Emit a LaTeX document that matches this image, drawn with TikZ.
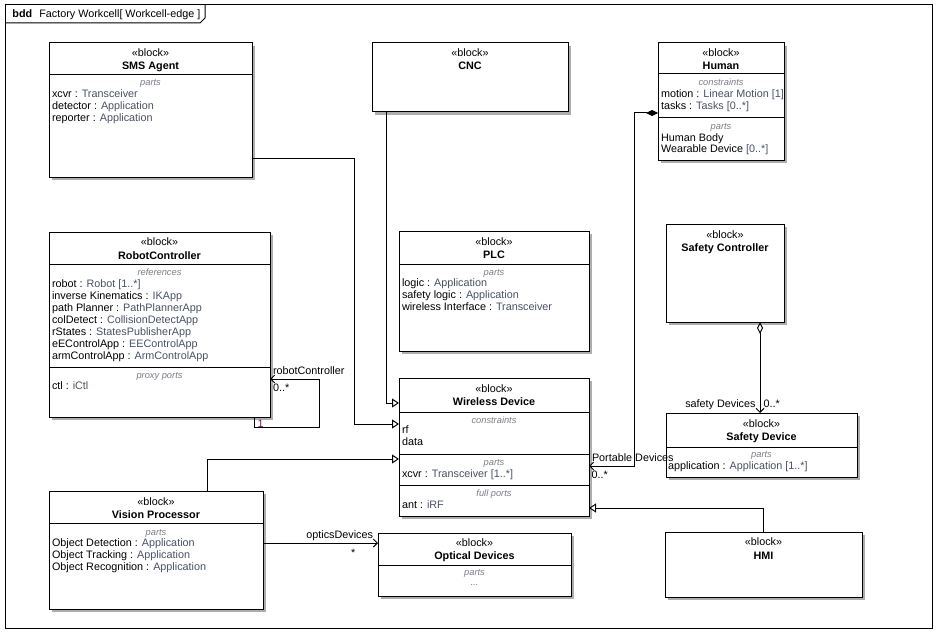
\documentclass[tikz,border=0pt]{standalone}
\usepackage{fontspec}
\setmainfont{Liberation Sans}
\usetikzlibrary{arrows.meta,calc,shadows}
\definecolor{typec}{RGB}{72,82,98}
\definecolor{lblc}{RGB}{125,125,135}
\definecolor{multc}{RGB}{110,30,90}
\newcommand{\tyc}[1]{\textcolor{typec}{#1}}
\begin{document}
\begin{tikzpicture}[x=1pt,y=-1pt,
  every node/.style={font=\fontsize{10.8}{12}\selectfont, inner sep=0pt, outer sep=0pt},
  blk/.style={draw, line width=1pt, fill=white, anchor=north west,
    drop shadow={shadow xshift=3pt, shadow yshift=-3pt, fill=black!32, opacity=1}},
  ster/.style={anchor=base},
  bname/.style={anchor=base, font=\fontsize{10.8}{12}\selectfont\bfseries},
  clbl/.style={anchor=base, text=lblc, font=\fontsize{9.3}{11}\selectfont\itshape},
  itm/.style={anchor=base west},
  sepline/.style={line width=1pt},
  conn/.style={line width=1pt},
  gen/.style={conn, -{Triangle[open, length=7pt, width=9pt, fill=white]}},
  nav/.style={conn, -{Straight Barb[length=4pt, width=8pt]}},
  comp/.style={conn, {Diamond[length=12pt, width=6pt, fill=black]}-{Straight Barb[length=4pt, width=8pt]}},
  aggr/.style={conn, {Diamond[open, length=12pt, width=6pt, fill=white]}-{Straight Barb[length=4pt, width=8pt]}},
  rolel/.style={anchor=base west},
]
\useasboundingbox (0,0) rectangle (938,634);
\fill[white] (0,0) rectangle (938,634);

% frame
\node[draw, line width=1pt, minimum width=927pt, minimum height=623pt, anchor=north west] (frame) at (5,5) {};
\draw[line width=1pt] (frame.north west) ++(0,18) -- ++(195,0) -- ++(5,-5) -- ++(0,-13);
\node[anchor=base west] (title) at (12.5,18) {\textbf{bdd}\hspace{4pt} Factory Workcell[ Workcell-edge ]};

% SMS Agent
\node[blk, minimum width=203pt, minimum height=134pt] (sms) at (49,43) {};
\node[ster] (smsst) at ($(sms.north)+(0,13.5)$) {«block»};
\node[bname] (smsnm) at ($(sms.north)+(0,27)$) {SMS Agent};
\draw[sepline] ($(sms.north west)+(0,32)$) -- ($(sms.north east)+(0,32)$);
\node[clbl] (smsc1) at ($(sms.north)+(0,43)$) {parts};
\node[itm] (smsi1) at ($(sms.north west)+(3,54.5)$) {xcvr : \tyc{Transceiver}};
\node[itm] (smsi2) at ($(sms.north west)+(3,66.5)$) {detector : \tyc{Application}};
\node[itm] (smsi3) at ($(sms.north west)+(3,78.5)$) {reporter : \tyc{Application}};

% CNC
\node[blk, minimum width=196pt, minimum height=69pt] (cnc) at (372,43) {};
\node[ster] (cncst) at ($(cnc.north)+(0,13.5)$) {«block»};
\node[bname] (cncnm) at ($(cnc.north)+(0,27)$) {CNC};

% Human
\node[blk, minimum width=126pt, minimum height=117pt] (human) at (658,43) {};
\node[ster] (hust) at ($(human.north)+(0,13.5)$) {«block»};
\node[bname] (hunm) at ($(human.north)+(0,27)$) {Human};
\draw[sepline] ($(human.north west)+(0,31)$) -- ($(human.north east)+(0,31)$);
\node[clbl] (huc1) at ($(human.north)+(0,42)$) {constraints};
\node[itm] (hui1) at ($(human.north west)+(3,54.5)$) {motion : \tyc{Linear Motion [1]}};
\node[itm] (hui2) at ($(human.north west)+(3,66.5)$) {tasks : \tyc{Tasks [0..*]}};
\draw[sepline] ($(human.north west)+(0,75)$) -- ($(human.north east)+(0,75)$);
\node[clbl] (huc2) at ($(human.north)+(0,86)$) {parts};
\node[itm] (hui3) at ($(human.north west)+(3,98)$) {Human Body};
\node[itm] (hui4) at ($(human.north west)+(3,110)$) {Wearable Device \tyc{[0..*]}};

% RobotController
\node[blk, minimum width=221pt, minimum height=185pt] (rc) at (49,232) {};
\node[ster] (rcst) at ($(rc.north)+(0,13.5)$) {«block»};
\node[bname] (rcnm) at ($(rc.north)+(0,27)$) {RobotController};
\draw[sepline] ($(rc.north west)+(0,32)$) -- ($(rc.north east)+(0,32)$);
\node[clbl] (rcc1) at ($(rc.north)+(0,43)$) {references};
\node[itm] (rci1) at ($(rc.north west)+(3,55.5)$) {robot : \tyc{Robot [1..*]}};
\node[itm] (rci2) at ($(rc.north west)+(3,67.5)$) {inverse Kinematics : \tyc{IKApp}};
\node[itm] (rci3) at ($(rc.north west)+(3,79.5)$) {path Planner : \tyc{PathPlannerApp}};
\node[itm] (rci4) at ($(rc.north west)+(3,91.5)$) {colDetect : \tyc{CollisionDetectApp}};
\node[itm] (rci5) at ($(rc.north west)+(3,103.5)$) {rStates : \tyc{StatesPublisherApp}};
\node[itm] (rci6) at ($(rc.north west)+(3,115.5)$) {eEControlApp : \tyc{EEControlApp}};
\node[itm] (rci7) at ($(rc.north west)+(3,127.5)$) {armControlApp : \tyc{ArmControlApp}};
\draw[sepline] ($(rc.north west)+(0,135.5)$) -- ($(rc.north east)+(0,135.5)$);
\node[clbl] (rcc2) at ($(rc.north)+(0,146)$) {proxy ports};
\node[itm] (rci8) at ($(rc.north west)+(3,157.5)$) {ctl : \tyc{iCtl}};

% PLC
\node[blk, minimum width=190pt, minimum height=120pt] (plc) at (399,231) {};
\node[ster] (plcst) at ($(plc.north)+(0,14)$) {«block»};
\node[bname] (plcnm) at ($(plc.north)+(0,27.5)$) {PLC};
\draw[sepline] ($(plc.north west)+(0,33)$) -- ($(plc.north east)+(0,33)$);
\node[clbl] (plcc1) at ($(plc.north)+(0,44)$) {parts};
\node[itm] (plci1) at ($(plc.north west)+(3,55.5)$) {logic : \tyc{Application}};
\node[itm] (plci2) at ($(plc.north west)+(3,67.5)$) {safety logic : \tyc{Application}};
\node[itm] (plci3) at ($(plc.north west)+(3,79.5)$) {wireless Interface : \tyc{Transceiver}};

% Wireless Device
\node[blk, minimum width=190pt, minimum height=138pt] (wd) at (399,378) {};
\node[ster] (wdst) at ($(wd.north)+(0,14)$) {«block»};
\node[bname] (wdnm) at ($(wd.north)+(0,27)$) {Wireless Device};
\draw[sepline] ($(wd.north west)+(0,34)$) -- ($(wd.north east)+(0,34)$);
\node[clbl] (wdc1) at ($(wd.north)+(0,45)$) {constraints};
\node[itm] (wdi1) at ($(wd.north west)+(3,55)$) {rf};
\node[itm] (wdi2) at ($(wd.north west)+(3,67)$) {data};
\draw[sepline] ($(wd.north west)+(0,76)$) -- ($(wd.north east)+(0,76)$);
\node[clbl] (wdc2) at ($(wd.north)+(0,87)$) {parts};
\node[itm] (wdi3) at ($(wd.north west)+(3,99)$) {xcvr : \tyc{Transceiver [1..*]}};
\draw[sepline] ($(wd.north west)+(0,107)$) -- ($(wd.north east)+(0,107)$);
\node[clbl] (wdc3) at ($(wd.north)+(0,118)$) {full ports};
\node[itm] (wdi4) at ($(wd.north west)+(3,130)$) {ant : \tyc{iRF}};

% Safety Controller
\node[blk, minimum width=118pt, minimum height=98pt] (sc) at (666,224) {};
\node[ster] (scst) at ($(sc.north)+(0,14)$) {«block»};
\node[bname] (scnm) at ($(sc.north)+(0,27)$) {Safety Controller};

% Safety Device
\node[blk, minimum width=191pt, minimum height=64pt] (sd) at (666,413) {};
\node[ster] (sdst) at ($(sd.north)+(0,14)$) {«block»};
\node[bname] (sdnm) at ($(sd.north)+(0,27.5)$) {Safety Device};
\draw[sepline] ($(sd.north west)+(0,34)$) -- ($(sd.north east)+(0,34)$);
\node[clbl] (sdc1) at ($(sd.north)+(0,44.5)$) {parts};
\node[itm] (sdi1) at ($(sd.north west)+(2,56.5)$) {application : \tyc{Application [1..*]}};

% Vision Processor
\node[blk, minimum width=214pt, minimum height=118pt] (vp) at (49,491) {};
\node[ster] (vpst) at ($(vp.north)+(0,14)$) {«block»};
\node[bname] (vpnm) at ($(vp.north)+(0,27)$) {Vision Processor};
\draw[sepline] ($(vp.north west)+(0,32.5)$) -- ($(vp.north east)+(0,32.5)$);
\node[clbl] (vpc1) at ($(vp.north)+(0,44)$) {parts};
\node[itm] (vpi1) at ($(vp.north west)+(3,55)$) {Object Detection : \tyc{Application}};
\node[itm] (vpi2) at ($(vp.north west)+(3,67)$) {Object Tracking : \tyc{Application}};
\node[itm] (vpi3) at ($(vp.north west)+(3,79)$) {Object Recognition : \tyc{Application}};

% Optical Devices
\node[blk, minimum width=193pt, minimum height=63pt] (od) at (378,533) {};
\node[ster] (odst) at ($(od.north)+(0,13.5)$) {«block»};
\node[bname] (odnm) at ($(od.north)+(0,26.5)$) {Optical Devices};
\draw[sepline] ($(od.north west)+(0,32)$) -- ($(od.north east)+(0,32)$);
\node[clbl] (odc1) at ($(od.north)+(0,42.5)$) {parts};
\node[clbl] (odc2) at ($(od.north)+(0,52.5)$) {...};

% HMI
\node[blk, minimum width=197pt, minimum height=65pt] (hmi) at (665,532) {};
\node[ster] (hmist) at ($(hmi.north)+(0,13.5)$) {«block»};
\node[bname] (hminm) at ($(hmi.north)+(0,27)$) {HMI};

% connectors
\draw[gen] ($(cnc.south west)+(14,0)$) |- ($(wd.north west)+(0,25)$);
\draw[gen] ($(sms.north east)+(0,115)$) -| ($(wd.north west)+(-45,46)$) -- ($(wd.north west)+(0,46)$);
\draw[gen] ($(vp.north west)+(158,0)$) |- ($(wd.north west)+(0,81)$);
\draw[gen] ($(hmi.north west)+(98,0)$) |- ($(wd.north east)+(0,130)$);
\draw[comp] ($(human.north west)+(0,70)$) -| ($(wd.north east)+(45,88)$) -- ($(wd.north east)+(0,88)$);
\draw[aggr] ($(sc.south west)+(94,0)$) -- ($(sd.north west)+(94,0)$);
\draw[nav] ($(rc.south west)+(205,0)$) |- ($(rc.south east)+(49,10)$) |- ($(rc.north east)+(0,147)$);
\draw[nav] ($(vp.north east)+(0,52)$) -- ($(od.north west)+(0,10)$);

% connector labels
\node[rolel] (pdl) at (592,461) {Portable Devices};
\node[rolel] (pdm) at (591.5,478) {0..*};
\node[anchor=base east] (sdl) at (755.5,407.5) {safety Devices};
\node[rolel] (sdm) at (763.5,407.5) {0..*};
\node[rolel] (rcl) at (273,374) {robotController};
\node[rolel] (rcm) at (273,391.5) {0..*};
\node[rolel, text=multc] (rcm1) at (257.5,427.5) {1};
\node[anchor=base east] (odl) at (373,538) {opticsDevices};
\node[rolel] (odm) at (351,556) {*};
\end{tikzpicture}
\end{document}
